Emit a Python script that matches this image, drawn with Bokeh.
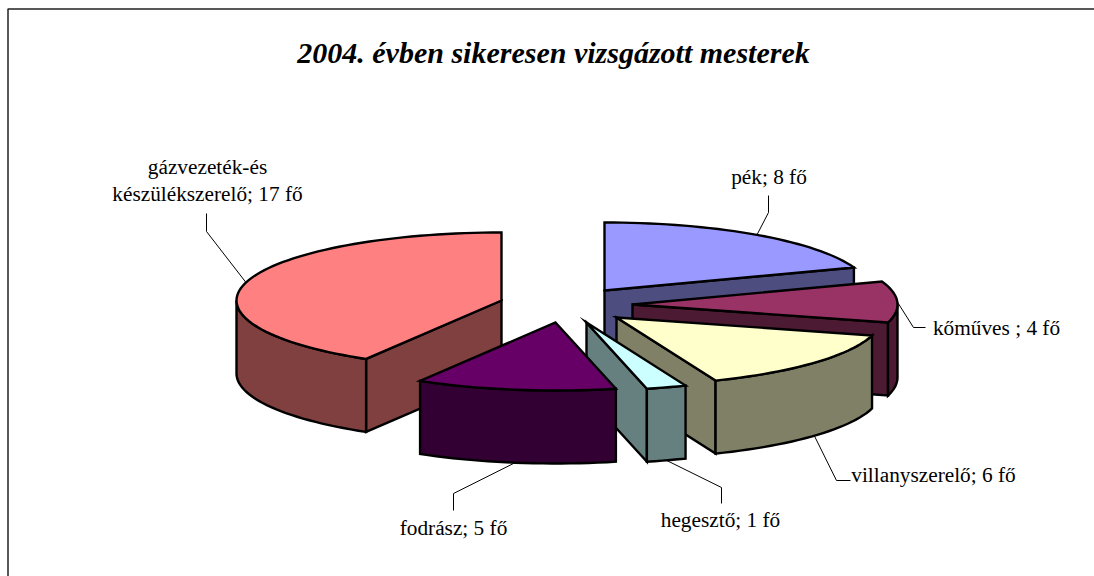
import math
from bokeh.plotting import figure
from bokeh.models import Range1d
from bokeh.core.properties import value
from bokeh.embed import file_html
from bokeh.resources import INLINE

# --- data ---
title = "2004. évben sikeresen vizsgázott mesterek"
trades = ["pék", "kőműves", "villanyszerelő", "hegesztő", "fodrász", "gázvezeték-és készülékszerelő"]
counts = [8, 4, 6, 1, 5, 17]
top_colors = ["#9999FF", "#993366", "#FFFFCC", "#CCFFFF", "#660066", "#FF8080"]
side_colors = ["#4D4D80", "#4D1A33", "#808066", "#668080", "#330033", "#804040"]
label_lines = [["pék; 8 fő"], ["kőműves ; 4 fő"], ["villanyszerelő; 6 fő"], ["hegesztő; 1 fő"],
               ["fodrász; 5 fő"], ["gázvezeték-és", "készülékszerelő; 17 fő"]]

# --- layout (page pixels) ---
RX, RY, DEPTH = 265, 68, 73
apex_x = [604, 632, 616, 586, 555, 501]
apex_y = [290, 304, 317, 322, 322, 300]
elbow_x = [768, 913, 836, 721, 453, 206]
elbow_y = [212, 327, 480, 487, 493, 231]
end_x = [768, 925, 850, 721, 453, 206]
end_y = [195, 327, 480, 503, 510, 213]
label_x = [768.5, 996, 933, 720, 453, 207]
label_y = [176.5, 327.5, 474.5, 519.5, 527.5, 166.5]
LINE_H = 27
DRAW_ORDER = [0, 1, 2, 3, 5, 4]

p = figure(width=1094, height=576, output_backend="svg", toolbar_location=None,
           x_range=Range1d(0, 1094), y_range=Range1d(576, 0), min_border=0)
p.axis.visible = False
p.grid.visible = False
p.outline_line_color = None
p.background_fill_color = "white"

p.line([7.5, 7.5, 1094], [576, 8.5, 8.5], line_color="#222222", line_width=1.5)

total = sum(counts)
starts, ends = [], []
acc = 0
for c in counts:
    starts.append(acc / total * 360)
    acc += c
    ends.append(acc / total * 360)


def pt(i, t, dz=0):
    r = math.radians(t)
    return apex_x[i] + RX * math.sin(r), apex_y[i] - RY * math.cos(r) + dz


def arc(i, t0, t1, dz=0):
    n = max(2, int((t1 - t0) / 2) + 2)
    return [pt(i, t0 + (t1 - t0) * k / (n - 1), dz) for k in range(n)]


def poly(points, color):
    p.patch([q[0] for q in points], [q[1] for q in points], fill_color=color,
            line_color="black", line_width=2.4, line_join="miter")


for i in DRAW_ORDER:
    t0, t1 = starts[i], ends[i]
    a = (apex_x[i], apex_y[i])
    ab = (apex_x[i], apex_y[i] + DEPTH)
    if math.sin(math.radians(t0)) < -1e-9:
        q = pt(i, t0)
        poly([a, q, (q[0], q[1] + DEPTH), ab], side_colors[i])
    if math.sin(math.radians(t1)) > 1e-9:
        q = pt(i, t1)
        poly([a, q, (q[0], q[1] + DEPTH), ab], side_colors[i])
    lo, hi = max(t0, 90), min(t1, 270)
    if lo < hi:
        poly(arc(i, lo, hi) + arc(i, lo, hi, DEPTH)[::-1], side_colors[i])
    poly([a] + arc(i, t0, t1), top_colors[i])

for i in range(len(counts)):
    mid = (starts[i] + ends[i]) / 2
    dz = DEPTH if 90 < mid < 270 else 0
    sx, sy = pt(i, mid, dz)
    p.line([sx, elbow_x[i], end_x[i]], [sy, elbow_y[i], end_y[i]], line_color="black", line_width=1)
    for k, s in enumerate(label_lines[i]):
        p.text([label_x[i]], [label_y[i] + k * LINE_H], text=[s], text_align="center",
               text_baseline="middle", text_font=value("Liberation Serif"),
               text_font_size="21.3px", text_color="black")

p.text([553], [51.5], text=[title], text_align="center", text_baseline="middle",
       text_font=value("Liberation Serif"), text_font_size="30px",
       text_font_style="bold italic", text_color="black")

open("out.html", "w").write(file_html(p, INLINE))
